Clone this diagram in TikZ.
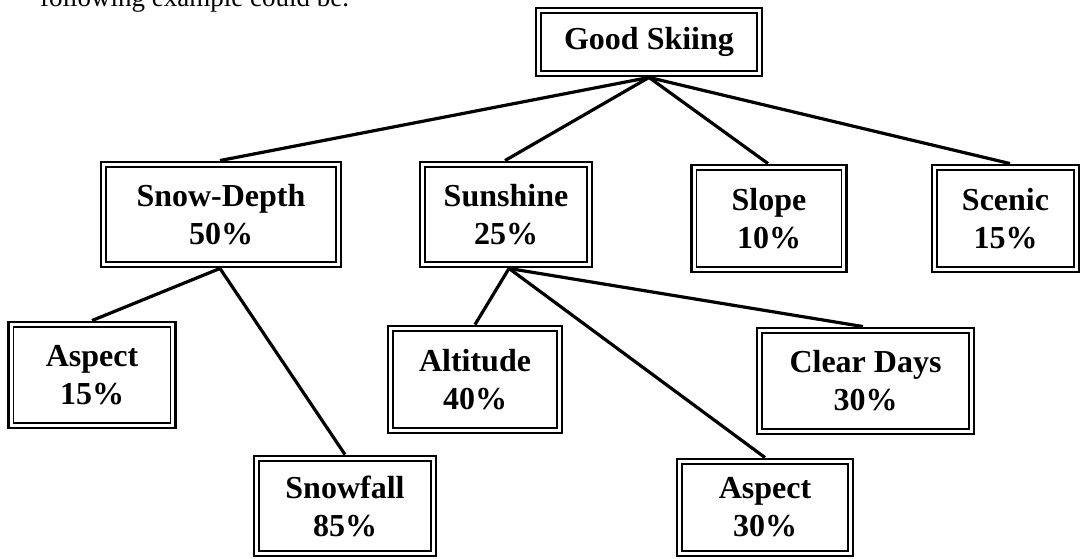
\documentclass[tikz,border=0pt]{standalone}
\usepackage{fontspec}
\setmainfont{Liberation Serif}
\tikzset{
  box/.style={draw, fill=white, line width=2.9pt, align=center, inner sep=0pt,
    font=\bfseries\fontsize{32}{38}\selectfont,
    path picture={\draw[line width=1.4pt]
      ([shift={(5pt,5pt)}]path picture bounding box.south west) rectangle
      ([shift={(-5pt,-5pt)}]path picture bounding box.north east);}},
  link/.style={line width=3.2pt}
}
\begin{document}
\begin{tikzpicture}[x=1pt,y=-1pt]
\useasboundingbox (0,0) rectangle (1081,558);
\node[anchor=base west, inner sep=0pt, font=\fontsize{27}{32}\selectfont] (intro) at (40,6) {following example could be.};
\node[box, minimum width=226pt, minimum height=68pt] (gs) at (649,42) {Good Skiing};
\node[box, minimum width=240pt, minimum height=105pt] (sd) at (221,214.5) {Snow-Depth\\50\%};
\node[box, minimum width=172pt, minimum height=105pt] (sun) at (506,214.5) {Sunshine\\25\%};
\node[box, minimum width=155pt, minimum height=107pt] (slope) at (769,218.5) {Slope\\10\%};
\node[box, minimum width=147pt, minimum height=107pt] (scenic) at (1005.5,218.5) {Scenic\\15\%};
\node[box, minimum width=167pt, minimum height=106pt] (aspl) at (92,375) {Aspect\\15\%};
\node[box, minimum width=182pt, minimum height=100pt] (snowfall) at (345,506) {Snowfall\\85\%};
\node[box, minimum width=174pt, minimum height=107pt] (alt) at (475,379.5) {Altitude\\40\%};
\node[box, minimum width=217pt, minimum height=106pt] (clear) at (865.5,381) {Clear Days\\30\%};
\node[box, minimum width=176pt, minimum height=97pt] (aspr) at (765,507.5) {Aspect\\30\%};
\draw[link] (gs.south) -- ([xshift=-1pt]sd.north);
\draw[link] (gs.south) -- ([xshift=-1pt]sun.north);
\draw[link] (gs.south) -- ([xshift=-1pt]slope.north);
\draw[link] (gs.south) -- ([xshift=4.5pt]scenic.north);
\draw[link] ([xshift=-1pt]sd.south) -- (aspl.north);
\draw[link] ([xshift=-1pt]sd.south) -- (snowfall.north);
\draw[link] ([xshift=3pt]sun.south) -- (alt.north);
\draw[link] ([xshift=3pt]sun.south) -- (aspr.north);
\draw[link] ([xshift=3pt]sun.south) -- ([xshift=-2.5pt]clear.north);
\end{tikzpicture}
\end{document}
